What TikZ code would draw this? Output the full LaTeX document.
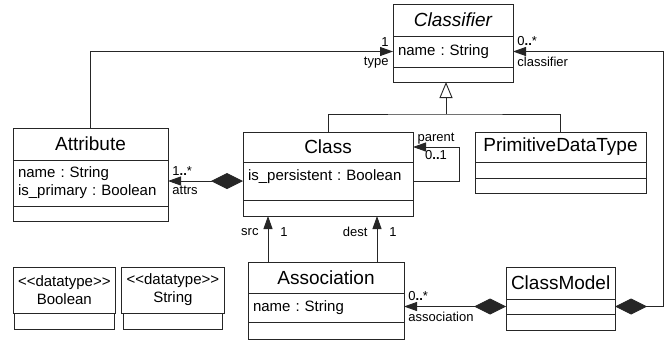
\documentclass[tikz,border=0pt]{standalone}
\usepackage{fontspec}
\setmainfont{Liberation Sans}
\usepackage{tikz}
\usetikzlibrary{arrows.meta, positioning}
\frenchspacing

\newcommand{\titlefont}{\fontsize{19}{22}\selectfont}
\newcommand{\attrfont}{\fontsize{15}{18}\selectfont}
\newcommand{\rolefont}{\fontsize{13}{15}\selectfont}

\begin{document}
\begin{tikzpicture}[
    x=1pt, y=-1pt,
    box/.style={rectangle, draw=black!85, fill=white, line width=0.9pt, outer sep=0pt, inner xsep=5pt, inner ysep=2pt},
    head/.style={box, font=\titlefont, align=center, minimum width=#1, minimum height=30pt},
    compart/.style={box, font=\attrfont, align=left, text width=#1},
    blank/.style={box, minimum width=#1, minimum height=15pt},
    line/.style={draw=black!85, line width=0.9pt},
    assoc/.style={line, -{Triangle[length=13pt, width=9pt]}},
    comp/.style={line, {Diamond[length=32pt, width=16pt]}-{Triangle[length=13pt, width=9pt]}},
    inherit/.style={line, -{Triangle[open, length=16pt, width=13pt, fill=white]}},
    role/.style={font=\rolefont, inner xsep=4pt, inner ysep=5pt}
]
\useasboundingbox (0,0) rectangle (668,341);

% Top - Classifier
\node[head=120pt, font={\titlefont\itshape}, minimum height=32pt, anchor=north west] (clf-title) at (393,4) {Classifier};
\node[compart=110pt, minimum height=31pt, below=0pt of clf-title] (clf-attr) {name : String};
\node[blank=120pt, below=0pt of clf-attr] (clf-ops) {};

% Middle row
\node[head=155pt, minimum height=32pt, anchor=north west] (attr-title) at (13,128) {Attribute};
\node[compart=145pt, minimum height=46pt, below=0pt of attr-title] (attr-attr) {name : String\\is\_primary : Boolean};
\node[blank=155pt, below=0pt of attr-attr] (attr-ops) {};

\node[head=170pt, anchor=north west] (cls-title) at (243,132) {Class};
\node[compart=160pt, text height=16pt, text depth=18pt, below=0pt of cls-title] (cls-attr) {is\_persistent : Boolean};
\node[blank=170pt, minimum height=16pt, below=0pt of cls-attr] (cls-ops) {};

\node[head=171pt, right=62pt of cls-title] (pdt-title) {PrimitiveDataType};
\node[blank=171pt, minimum height=16pt, below=0pt of pdt-title] (pdt-attr) {};
\node[blank=171pt, below=0pt of pdt-attr] (pdt-ops) {};

% Bottom row
\node[head=100pt, font=\attrfont, minimum height=46pt, anchor=north west] (bool-title) at (13,267) {<{}<datatype>{}>\\Boolean};
\node[blank=100pt, minimum height=16pt, below=0pt of bool-title] (bool-attr) {};
\node[head=99pt, font=\attrfont, minimum height=46pt, right=6pt of bool-title] (str-title) {<{}<datatype>{}>\\String};
\node[blank=99pt, minimum height=16pt, below=0pt of str-title] (str-attr) {};

\node[head=156pt, minimum height=31pt, anchor=north west] (assoc-title) at (248,262) {Association};
\node[compart=146pt, minimum height=29pt, below=0pt of assoc-title] (assoc-attr) {name : String};
\node[blank=156pt, minimum height=17pt, below=0pt of assoc-attr] (assoc-ops) {};

\node[head=109pt, minimum height=32pt, anchor=north west] (cm-title) at (506,267) {ClassModel};
\node[blank=109pt, below=0pt of cm-title] (cm-attr) {};
\node[blank=109pt, minimum height=16pt, below=0pt of cm-attr] (cm-ops) {};

% Generalization
\coordinate (genpt) at ([xshift=-7pt]clf-ops.south);
\coordinate (genbar) at ([yshift=-32pt]genpt);
\draw[line] (cls-title.north) |- (genbar) -| (pdt-title.north);
\draw[inherit] (genbar) -- (genpt);

% Associations
\draw[assoc] (attr-title.north) |- (clf-attr.west) node[role, pos=1, above left] {1} node[role, pos=1, below left] {type};
\draw[comp] (cm-attr.east) -- ++(48,0) |- (clf-attr.east) node[role, pos=1, above right] {0\textbf{..}*} node[role, pos=1, below right] {classifier};
\draw[comp] (cls-attr.west) -- (cls-attr.west -| attr-attr.east) node[role, pos=1, above right] {1\textbf{..}*} node[role, pos=1, below right] {attrs};
\draw[assoc] (cls-attr.east) -- ++(46,0) |- (cls-title.east) node[role, pos=0.75, above, inner ysep=2pt] {parent} node[role, pos=0.75, below, inner ysep=3pt] {0\textbf{..}1};
\draw[comp] (cm-attr.west) -- (cm-attr.west -| assoc-attr.east) node[role, pos=1, above right] {0\textbf{..}*} node[role, pos=1, below right] {association};

\coordinate (srcpt) at ([xshift=20pt]assoc-title.north west);
\coordinate (destpt) at ([xshift=-27pt]assoc-title.north east);
\draw[assoc] (srcpt) -- (srcpt |- cls-ops.south) node[role, pos=0.65, left=5pt] {src} node[role, pos=0.65, right=8pt] {1};
\draw[assoc] (destpt) -- (destpt |- cls-ops.south) node[role, pos=0.65, left=5pt] {dest} node[role, pos=0.65, right=8pt] {1};

\end{tikzpicture}
\end{document}
